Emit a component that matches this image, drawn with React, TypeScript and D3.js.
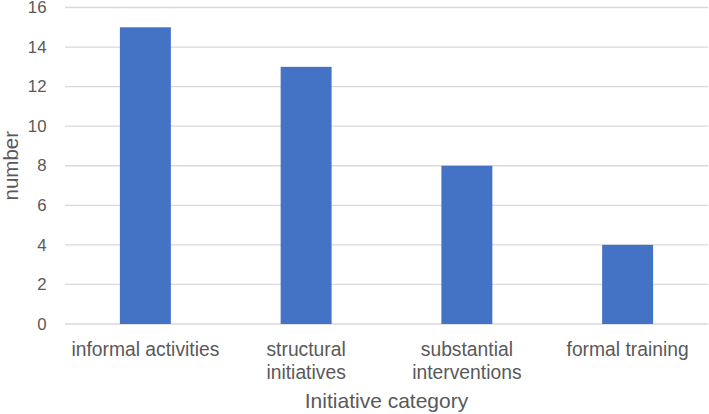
import React from "react";
import * as d3 from "d3";

const categories: string[][] = [
  ["informal activities"],
  ["structural", "initiatives"],
  ["substantial", "interventions"],
  ["formal training"],
];
const values: number[] = [15, 13, 8, 4];
const yTicks: number[] = [0, 2, 4, 6, 8, 10, 12, 14, 16];
const xTitle = "Initiative category";
const yTitle = "number";

const W = 709;
const H = 414;
const left = 65;
const right = 708;
const top = 7.5;
const bottom = 324;
const textColor = "#595959";
const font = "'Liberation Sans', Arial, Helvetica, sans-serif";

export default function App() {
  const keys = categories.map((c) => c.join(" "));
  const x = d3
    .scaleBand<string>()
    .domain(keys)
    .range([left, right])
    .paddingInner(0.683)
    .paddingOuter(0.683 / 2);
  const y = d3.scaleLinear().domain([0, 16]).range([bottom, top]);

  return (
    <svg
      width={W}
      height={H}
      style={{ position: "absolute", left: 0, top: 0, background: "#fff" }}
      fontFamily={font}
    >
      {yTicks.map((t) => (
        <g key={t}>
          <line
            x1={left}
            x2={right}
            y1={y(t)}
            y2={y(t)}
            stroke="#d9d9d9"
            strokeWidth={1.3}
          />
          <text
            x={46.5}
            y={y(t)}
            dy="0.34em"
            textAnchor="end"
            fontSize={16.8}
            fill={textColor}
          >
            {t}
          </text>
        </g>
      ))}
      {keys.map((k, i) => (
        <rect
          key={k}
          x={x(k)}
          y={y(values[i])}
          width={x.bandwidth()}
          height={y(0) - y(values[i])}
          fill="#4472c4"
        />
      ))}
      {categories.map((lines, i) => (
        <text
          key={keys[i]}
          textAnchor="middle"
          fontSize={19.3}
          fill={textColor}
        >
          {lines.map((l, j) => (
            <tspan
              key={j}
              x={(x(keys[i]) as number) + x.bandwidth() / 2}
              y={356 + j * 23}
            >
              {l}
            </tspan>
          ))}
        </text>
      ))}
      <text
        x={(left + right) / 2}
        y={408}
        textAnchor="middle"
        fontSize={21}
        fill={textColor}
      >
        {xTitle}
      </text>
      <text
        transform={`translate(17.5,${(top + bottom) / 2}) rotate(-90)`}
        textAnchor="middle"
        fontSize={20.5}
        fill={textColor}
      >
        {yTitle}
      </text>
    </svg>
  );
}
